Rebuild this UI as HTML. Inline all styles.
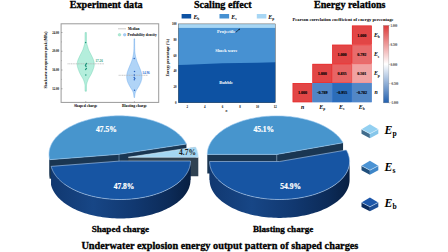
<!DOCTYPE html>
<html><head><meta charset="utf-8"><style>
html,body{margin:0;padding:0;background:#fff;}
svg{display:block;}
</style></head><body>
<svg width="448" height="252" viewBox="0 0 448 252">
<defs>
<linearGradient id="gside" x1="0" y1="0" x2="1" y2="0">
<stop offset="0" stop-color="#113870"/><stop offset="0.3" stop-color="#174686"/><stop offset="0.6" stop-color="#113870"/><stop offset="0.85" stop-color="#0c2b58"/><stop offset="1" stop-color="#081f42"/>
</linearGradient>
<linearGradient id="gcb" x1="0" y1="0" x2="0" y2="1">
<stop offset="0" stop-color="#dc3a3a"/><stop offset="0.5" stop-color="#ffffff"/><stop offset="1" stop-color="#215fae"/>
</linearGradient>
</defs>
<rect width="448" height="252" fill="#fff"/>
<text x="106.20" y="7.60" font-family="Liberation Serif" font-size="10.15" font-weight="bold" font-style="normal" text-anchor="middle" fill="#000" stroke="#000" stroke-width="0.3">Experiment data</text>
<text x="222.75" y="7.60" font-family="Liberation Serif" font-size="10.15" font-weight="bold" font-style="normal" text-anchor="middle" fill="#000" stroke="#000" stroke-width="0.3">Scaling effect</text>
<text x="349.75" y="7.60" font-family="Liberation Serif" font-size="10.15" font-weight="bold" font-style="normal" text-anchor="middle" fill="#000" stroke="#000" stroke-width="0.3">Energy relations</text>
<rect x="61.1" y="23.8" width="97.6" height="78.6" fill="none" stroke="#9a9a9a" stroke-width="1.0"/>
<line x1="61.1" y1="41.9" x2="61.9" y2="41.9" stroke="#666" stroke-width="0.35"/>
<line x1="61.1" y1="60.6" x2="61.9" y2="60.6" stroke="#666" stroke-width="0.35"/>
<line x1="61.1" y1="79.4" x2="61.9" y2="79.4" stroke="#666" stroke-width="0.35"/>
<line x1="85.75" y1="102.4" x2="85.75" y2="101.1" stroke="#555" stroke-width="0.4"/>
<line x1="134.4" y1="102.4" x2="134.4" y2="101.1" stroke="#555" stroke-width="0.4"/>
<line x1="61.1" y1="32.5" x2="62.6" y2="32.5" stroke="#555" stroke-width="0.4"/>
<text x="59.10" y="33.60" font-family="Liberation Serif" font-size="3.1" font-weight="bold" font-style="normal" text-anchor="end" fill="#000" >24.00</text>
<line x1="61.1" y1="51.25" x2="62.6" y2="51.25" stroke="#555" stroke-width="0.4"/>
<text x="59.10" y="52.35" font-family="Liberation Serif" font-size="3.1" font-weight="bold" font-style="normal" text-anchor="end" fill="#000" >20.00</text>
<line x1="61.1" y1="70" x2="62.6" y2="70" stroke="#555" stroke-width="0.4"/>
<text x="59.10" y="71.10" font-family="Liberation Serif" font-size="3.1" font-weight="bold" font-style="normal" text-anchor="end" fill="#000" >16.00</text>
<line x1="61.1" y1="88.75" x2="62.6" y2="88.75" stroke="#555" stroke-width="0.4"/>
<text x="59.10" y="89.85" font-family="Liberation Serif" font-size="3.1" font-weight="bold" font-style="normal" text-anchor="end" fill="#000" >12.00</text>
<text x="0" y="0" font-family="Liberation Serif" font-size="3.6" font-weight="bold" text-anchor="middle" transform="translate(47.4,60.1) rotate(-90)">Shockwave overpressure peak (MPa)</text>
<path d="M85.05,32.60 L85.05,32.91 L85.05,33.31 L85.04,33.78 L85.04,34.32 L85.04,34.90 L85.03,35.51 L85.03,36.14 L85.03,36.78 L85.02,37.42 L85.02,38.03 L85.01,38.60 L85.01,39.14 L85.01,39.60 L85.00,40.00 L84.99,40.82 L84.98,41.38 L84.96,41.77 L84.94,42.11 L84.90,42.50 L84.83,43.04 L84.73,43.53 L84.62,44.01 L84.50,44.50 L84.36,45.00 L84.21,45.50 L84.05,46.00 L83.90,46.50 L83.75,47.01 L83.60,47.53 L83.45,48.04 L83.30,48.50 L83.14,49.00 L82.98,49.44 L82.75,50.00 L82.55,50.44 L82.32,50.93 L82.07,51.45 L81.81,51.98 L81.55,52.50 L81.29,53.00 L81.03,53.50 L80.77,54.00 L80.51,54.50 L80.25,55.00 L80.00,55.50 L79.76,56.00 L79.51,56.50 L79.28,57.00 L79.05,57.50 L78.82,58.01 L78.60,58.52 L78.38,59.04 L78.18,59.53 L78.00,60.00 L77.82,60.54 L77.67,61.03 L77.55,61.51 L77.45,62.00 L77.36,62.50 L77.28,63.00 L77.23,63.50 L77.20,64.00 L77.20,64.50 L77.23,65.00 L77.28,65.50 L77.35,66.00 L77.45,66.50 L77.57,67.00 L77.70,67.50 L77.85,68.00 L78.01,68.50 L78.18,69.00 L78.36,69.50 L78.55,70.00 L78.74,70.50 L78.94,71.00 L79.14,71.50 L79.35,72.00 L79.56,72.50 L79.78,73.00 L80.01,73.50 L80.25,74.00 L80.51,74.50 L80.78,75.00 L81.06,75.50 L81.35,76.00 L81.65,76.50 L81.96,77.00 L82.26,77.50 L82.55,78.00 L82.82,78.50 L83.08,79.00 L83.33,79.50 L83.55,80.00 L83.75,80.50 L83.93,81.00 L84.09,81.50 L84.25,82.00 L84.41,82.50 L84.56,83.00 L84.69,83.50 L84.80,84.00 L84.88,84.43 L84.93,84.80 L84.97,85.27 L85.00,86.00 L85.01,86.41 L85.02,86.92 L85.03,87.49 L85.03,88.10 L85.04,88.72 L85.04,89.34 L85.04,89.92 L85.05,90.44 L85.05,90.88 L85.05,91.20 L86.45,91.20 L86.45,90.88 L86.45,90.44 L86.46,89.92 L86.46,89.34 L86.46,88.72 L86.47,88.10 L86.47,87.49 L86.48,86.92 L86.49,86.41 L86.50,86.00 L86.53,85.27 L86.57,84.80 L86.62,84.43 L86.70,84.00 L86.81,83.50 L86.94,83.00 L87.09,82.50 L87.25,82.00 L87.41,81.50 L87.57,81.00 L87.75,80.50 L87.95,80.00 L88.17,79.50 L88.42,79.00 L88.68,78.50 L88.95,78.00 L89.24,77.50 L89.54,77.00 L89.85,76.50 L90.15,76.00 L90.44,75.50 L90.72,75.00 L90.99,74.50 L91.25,74.00 L91.49,73.50 L91.72,73.00 L91.94,72.50 L92.15,72.00 L92.36,71.50 L92.56,71.00 L92.76,70.50 L92.95,70.00 L93.14,69.50 L93.32,69.00 L93.49,68.50 L93.65,68.00 L93.80,67.50 L93.93,67.00 L94.05,66.50 L94.15,66.00 L94.22,65.50 L94.27,65.00 L94.30,64.50 L94.30,64.00 L94.27,63.50 L94.22,63.00 L94.14,62.50 L94.05,62.00 L93.95,61.51 L93.83,61.03 L93.68,60.54 L93.50,60.00 L93.32,59.53 L93.12,59.04 L92.90,58.52 L92.68,58.01 L92.45,57.50 L92.22,57.00 L91.99,56.50 L91.74,56.00 L91.50,55.50 L91.25,55.00 L90.99,54.50 L90.73,54.00 L90.47,53.50 L90.21,53.00 L89.95,52.50 L89.69,51.98 L89.43,51.45 L89.18,50.93 L88.95,50.44 L88.75,50.00 L88.52,49.44 L88.36,49.00 L88.20,48.50 L88.05,48.04 L87.90,47.53 L87.75,47.01 L87.60,46.50 L87.45,46.00 L87.29,45.50 L87.14,45.00 L87.00,44.50 L86.88,44.01 L86.77,43.53 L86.67,43.04 L86.60,42.50 L86.56,42.11 L86.54,41.77 L86.52,41.38 L86.51,40.82 L86.50,40.00 L86.49,39.60 L86.49,39.14 L86.49,38.60 L86.48,38.03 L86.48,37.42 L86.47,36.78 L86.47,36.14 L86.47,35.51 L86.46,34.90 L86.46,34.32 L86.46,33.78 L86.45,33.31 L86.45,32.91 L86.45,32.60 Z" fill="#b4eedc" stroke="#62cdaa" stroke-width="0.4" stroke-linejoin="round"/>
<path d="M134.00,38.80 L134.00,39.10 L134.00,39.48 L133.99,39.92 L133.99,40.43 L133.99,40.97 L133.98,41.55 L133.98,42.15 L133.98,42.76 L133.97,43.37 L133.97,43.97 L133.96,44.54 L133.96,45.08 L133.96,45.57 L133.95,46.00 L133.94,46.66 L133.93,47.26 L133.92,47.80 L133.91,48.29 L133.90,48.75 L133.88,49.18 L133.87,49.59 L133.85,50.00 L133.82,50.60 L133.78,51.11 L133.75,51.57 L133.70,52.02 L133.65,52.50 L133.60,52.99 L133.54,53.46 L133.48,53.94 L133.40,54.45 L133.30,55.00 L133.20,55.50 L133.09,56.03 L132.98,56.58 L132.84,57.14 L132.70,57.72 L132.55,58.30 L132.41,58.80 L132.27,59.32 L132.11,59.84 L131.95,60.37 L131.78,60.91 L131.60,61.45 L131.40,62.00 L131.21,62.49 L131.01,62.98 L130.80,63.48 L130.58,63.98 L130.35,64.49 L130.13,64.99 L129.91,65.50 L129.70,66.00 L129.49,66.51 L129.28,67.02 L129.06,67.54 L128.85,68.06 L128.65,68.57 L128.45,69.07 L128.27,69.55 L128.10,70.00 L127.90,70.56 L127.72,71.07 L127.55,71.56 L127.41,72.04 L127.27,72.51 L127.15,73.00 L127.04,73.50 L126.94,74.00 L126.85,74.50 L126.78,75.00 L126.73,75.50 L126.70,76.00 L126.69,76.50 L126.70,77.00 L126.72,77.50 L126.76,78.00 L126.82,78.50 L126.90,79.00 L127.00,79.51 L127.12,80.04 L127.26,80.56 L127.40,81.07 L127.55,81.56 L127.70,82.00 L127.92,82.57 L128.14,83.06 L128.37,83.52 L128.60,84.00 L128.84,84.50 L129.08,85.00 L129.33,85.50 L129.60,86.00 L129.88,86.50 L130.18,87.00 L130.49,87.50 L130.80,88.00 L131.12,88.51 L131.45,89.03 L131.77,89.54 L132.05,90.00 L132.36,90.54 L132.62,91.02 L132.85,91.50 L133.06,91.98 L133.24,92.46 L133.40,93.00 L133.50,93.45 L133.59,93.94 L133.67,94.45 L133.75,95.00 L133.81,95.51 L133.87,96.08 L133.92,96.66 L133.97,97.15 L134.00,97.50 L134.60,97.50 L134.63,97.15 L134.68,96.66 L134.73,96.08 L134.79,95.51 L134.85,95.00 L134.93,94.45 L135.01,93.94 L135.10,93.45 L135.20,93.00 L135.36,92.46 L135.54,91.98 L135.75,91.50 L135.98,91.02 L136.24,90.54 L136.55,90.00 L136.83,89.54 L137.15,89.03 L137.48,88.51 L137.80,88.00 L138.11,87.50 L138.42,87.00 L138.72,86.50 L139.00,86.00 L139.27,85.50 L139.52,85.00 L139.76,84.50 L140.00,84.00 L140.23,83.52 L140.46,83.06 L140.68,82.57 L140.90,82.00 L141.05,81.56 L141.20,81.07 L141.34,80.56 L141.48,80.04 L141.60,79.51 L141.70,79.00 L141.78,78.50 L141.84,78.00 L141.88,77.50 L141.90,77.00 L141.91,76.50 L141.90,76.00 L141.87,75.50 L141.82,75.00 L141.75,74.50 L141.66,74.00 L141.56,73.50 L141.45,73.00 L141.33,72.51 L141.19,72.04 L141.05,71.56 L140.88,71.07 L140.70,70.56 L140.50,70.00 L140.33,69.55 L140.15,69.07 L139.95,68.57 L139.75,68.06 L139.54,67.54 L139.32,67.02 L139.11,66.51 L138.90,66.00 L138.69,65.50 L138.47,64.99 L138.25,64.49 L138.02,63.98 L137.80,63.48 L137.59,62.98 L137.39,62.49 L137.20,62.00 L137.00,61.45 L136.82,60.91 L136.65,60.37 L136.49,59.84 L136.33,59.32 L136.19,58.80 L136.05,58.30 L135.90,57.72 L135.76,57.14 L135.62,56.58 L135.51,56.03 L135.40,55.50 L135.30,55.00 L135.20,54.45 L135.12,53.94 L135.06,53.46 L135.00,52.99 L134.95,52.50 L134.90,52.02 L134.85,51.57 L134.82,51.11 L134.78,50.60 L134.75,50.00 L134.73,49.59 L134.72,49.18 L134.70,48.75 L134.69,48.29 L134.68,47.80 L134.67,47.26 L134.66,46.66 L134.65,46.00 L134.64,45.57 L134.64,45.08 L134.64,44.54 L134.63,43.97 L134.63,43.37 L134.62,42.76 L134.62,42.15 L134.62,41.55 L134.61,40.97 L134.61,40.43 L134.61,39.92 L134.60,39.48 L134.60,39.10 L134.60,38.80 Z" fill="#b0d4f7" stroke="#5a9ee8" stroke-width="0.4" stroke-linejoin="round"/>
<line x1="67.5" y1="63.8" x2="104" y2="63.8" stroke="#b0b0b0" stroke-width="0.7" stroke-dasharray="1.2,0.5"/>
<line x1="118.6" y1="75.3" x2="148" y2="75.3" stroke="#b0b0b0" stroke-width="0.7" stroke-dasharray="1.2,0.5"/>
<text x="95.40" y="62.00" font-family="Liberation Serif" font-size="3.3" font-weight="bold" font-style="normal" text-anchor="start" fill="#2fa585" >17.26</text>
<text x="142.20" y="73.80" font-family="Liberation Serif" font-size="3.4" font-weight="bold" font-style="normal" text-anchor="start" fill="#2f6fcf" >14.96</text>
<circle cx="85.6" cy="42.5" r="0.75" fill="#21977e"/>
<circle cx="86.5" cy="63.6" r="0.75" fill="#21977e"/>
<circle cx="85.8" cy="64.6" r="0.75" fill="#21977e"/>
<circle cx="85.5" cy="65.6" r="0.75" fill="#21977e"/>
<circle cx="86.0" cy="66.4" r="0.75" fill="#21977e"/>
<circle cx="86.4" cy="68.6" r="0.75" fill="#21977e"/>
<circle cx="85.6" cy="69.4" r="0.75" fill="#21977e"/>
<circle cx="85.8" cy="75.0" r="0.75" fill="#21977e"/>
<circle cx="134.2" cy="58.4" r="0.75" fill="#2a63c0"/>
<circle cx="134.5" cy="71.4" r="0.75" fill="#2a63c0"/>
<circle cx="134.3" cy="75.0" r="0.75" fill="#2a63c0"/>
<circle cx="134.2" cy="77.6" r="0.75" fill="#2a63c0"/>
<circle cx="134.8" cy="78.6" r="0.75" fill="#2a63c0"/>
<circle cx="134.3" cy="79.8" r="0.75" fill="#2a63c0"/>
<circle cx="134.5" cy="90.2" r="0.75" fill="#2a63c0"/>
<line x1="118" y1="28.8" x2="126" y2="28.8" stroke="#c4c4c4" stroke-width="0.9"/>
<text x="127.90" y="30.10" font-family="Liberation Serif" font-size="3.57" font-weight="bold" font-style="normal" text-anchor="start" fill="#000" >Median</text>
<circle cx="119.5" cy="34.8" r="1.3" fill="#aeead3" stroke="#5cc7a4" stroke-width="0.3"/>
<circle cx="124.7" cy="34.8" r="1.3" fill="#a9cff5" stroke="#4f97e6" stroke-width="0.3"/>
<text x="127.50" y="36.10" font-family="Liberation Serif" font-size="3.6" font-weight="bold" font-style="normal" text-anchor="start" fill="#000" >Probability density</text>
<text x="85.75" y="107.40" font-family="Liberation Serif" font-size="3.73" font-weight="bold" font-style="normal" text-anchor="middle" fill="#000" >Shaped charge</text>
<text x="134.50" y="107.40" font-family="Liberation Serif" font-size="3.77" font-weight="bold" font-style="normal" text-anchor="middle" fill="#000" >Blasting charge</text>
<rect x="178.4" y="23.9" width="96.80" height="78.80" fill="#a7d6f4"/>
<rect x="178.4" y="27.92" width="96.80" height="74.78" fill="#4791d2"/>
<path d="M178.4,102.7 L178.40,65.03 L187.20,64.64 L204.80,63.93 L222.40,63.30 L240.00,62.91 L257.60,62.67 L275.20,62.35 L275.2,102.7 Z" fill="#0d52a3"/>
<rect x="178.4" y="23.9" width="96.80" height="78.80" fill="none" stroke="#333" stroke-width="0.4"/>
<text x="176.60" y="103.80" font-family="Liberation Serif" font-size="3.1" font-weight="bold" font-style="normal" text-anchor="end" fill="#000" >0</text>
<text x="176.60" y="88.04" font-family="Liberation Serif" font-size="3.1" font-weight="bold" font-style="normal" text-anchor="end" fill="#000" >20</text>
<text x="176.60" y="72.28" font-family="Liberation Serif" font-size="3.1" font-weight="bold" font-style="normal" text-anchor="end" fill="#000" >40</text>
<text x="176.60" y="56.52" font-family="Liberation Serif" font-size="3.1" font-weight="bold" font-style="normal" text-anchor="end" fill="#000" >60</text>
<text x="176.60" y="40.76" font-family="Liberation Serif" font-size="3.1" font-weight="bold" font-style="normal" text-anchor="end" fill="#000" >80</text>
<text x="176.60" y="25.00" font-family="Liberation Serif" font-size="3.1" font-weight="bold" font-style="normal" text-anchor="end" fill="#000" >100</text>
<text x="187.20" y="107.60" font-family="Liberation Serif" font-size="3.1" font-weight="bold" font-style="normal" text-anchor="middle" fill="#000" >2</text>
<text x="204.80" y="107.60" font-family="Liberation Serif" font-size="3.1" font-weight="bold" font-style="normal" text-anchor="middle" fill="#000" >4</text>
<text x="222.40" y="107.60" font-family="Liberation Serif" font-size="3.1" font-weight="bold" font-style="normal" text-anchor="middle" fill="#000" >6</text>
<text x="240.00" y="107.60" font-family="Liberation Serif" font-size="3.1" font-weight="bold" font-style="normal" text-anchor="middle" fill="#000" >8</text>
<text x="257.60" y="107.60" font-family="Liberation Serif" font-size="3.1" font-weight="bold" font-style="normal" text-anchor="middle" fill="#000" >10</text>
<text x="275.20" y="107.60" font-family="Liberation Serif" font-size="3.1" font-weight="bold" font-style="normal" text-anchor="middle" fill="#000" >12</text>
<text x="226.50" y="111.80" font-family="Liberation Serif" font-size="3.3" font-weight="bold" font-style="italic" text-anchor="middle" fill="#000" >n</text>
<text x="0" y="0" font-family="Liberation Serif" font-size="3.8" font-weight="bold" text-anchor="middle" transform="translate(169.2,57.7) rotate(-90)">Energy percentage (%)</text>
<text x="226.15" y="33.30" font-family="Liberation Serif" font-size="4.45" font-weight="bold" font-style="normal" text-anchor="middle" fill="#fff" >Projectile</text>
<line x1="235.8" y1="32.3" x2="239.6" y2="29" stroke="#000" stroke-width="0.6"/>
<path d="M239.9,28.7 L238.3,29.3 L239.3,30.3 Z" fill="#000"/>
<text x="226.30" y="52.30" font-family="Liberation Serif" font-size="4.42" font-weight="bold" font-style="normal" text-anchor="middle" fill="#fff" >Shock wave</text>
<text x="226.10" y="83.90" font-family="Liberation Serif" font-size="4.55" font-weight="bold" font-style="normal" text-anchor="middle" fill="#fff" >Bubble</text>
<rect x="181.6" y="14" width="9.6" height="4.5" fill="#0d52a3"/>
<rect x="219.5" y="14" width="9.6" height="4.5" fill="#4791d2"/>
<rect x="256.8" y="14" width="9.6" height="4.5" fill="#a7d6f4"/>
<text x="193.40" y="18.60" font-family="Liberation Serif" font-size="5.8" font-weight="bold" fill="#000" text-anchor="start"><tspan font-style="italic">E</tspan><tspan font-size="3.60" dy="1.28">b</tspan></text>
<text x="231.30" y="18.60" font-family="Liberation Serif" font-size="5.8" font-weight="bold" fill="#000" text-anchor="start"><tspan font-style="italic">E</tspan><tspan font-size="3.60" dy="1.28">s</tspan></text>
<text x="268.30" y="18.60" font-family="Liberation Serif" font-size="5.8" font-weight="bold" fill="#000" text-anchor="start"><tspan font-style="italic">E</tspan><tspan font-size="3.60" dy="1.28">p</tspan></text>
<text x="343.10" y="21.40" font-family="Liberation Serif" font-size="4.57" font-weight="bold" font-style="normal" text-anchor="middle" fill="#000" >Pearson correlation coefficient of energy percentage</text>
<rect x="351.95" y="25.60" width="19.75" height="19.15" fill="#e24646"/>
<rect x="352.25" y="25.90" width="19.15" height="18.55" fill="none" stroke="#eb2828" stroke-width="0.6"/>
<text x="361.82" y="36.57" font-family="Liberation Serif" font-size="4.1" font-weight="bold" font-style="normal" text-anchor="middle" fill="#000" stroke="#000" stroke-width="0.12">1.000</text>
<rect x="332.20" y="44.75" width="19.75" height="19.15" fill="#e24646"/>
<rect x="332.50" y="45.05" width="19.15" height="18.55" fill="none" stroke="#eb2828" stroke-width="0.6"/>
<text x="342.07" y="55.73" font-family="Liberation Serif" font-size="4.1" font-weight="bold" font-style="normal" text-anchor="middle" fill="#000" stroke="#000" stroke-width="0.12">1.000</text>
<rect x="351.95" y="44.75" width="19.75" height="19.15" fill="#e86c6c"/>
<rect x="352.25" y="45.05" width="19.15" height="18.55" fill="none" stroke="#ee4c4c" stroke-width="0.6"/>
<text x="361.82" y="55.73" font-family="Liberation Serif" font-size="4.1" font-weight="bold" font-style="normal" text-anchor="middle" fill="#000" stroke="#000" stroke-width="0.12">0.792</text>
<rect x="312.45" y="63.90" width="19.75" height="19.15" fill="#e24646"/>
<rect x="312.75" y="64.20" width="19.15" height="18.55" fill="none" stroke="#eb2828" stroke-width="0.6"/>
<text x="322.32" y="74.88" font-family="Liberation Serif" font-size="4.1" font-weight="bold" font-style="normal" text-anchor="middle" fill="#000" stroke="#000" stroke-width="0.12">1.000</text>
<rect x="332.20" y="63.90" width="19.75" height="19.15" fill="#e76565"/>
<rect x="332.50" y="64.20" width="19.15" height="18.55" fill="none" stroke="#ed4242" stroke-width="0.6"/>
<text x="342.07" y="74.88" font-family="Liberation Serif" font-size="4.1" font-weight="bold" font-style="normal" text-anchor="middle" fill="#000" stroke="#000" stroke-width="0.12">0.835</text>
<rect x="351.95" y="63.90" width="19.75" height="19.15" fill="#f0a2a2"/>
<rect x="352.25" y="64.20" width="19.15" height="18.55" fill="none" stroke="#f48e8e" stroke-width="0.6"/>
<text x="361.82" y="74.88" font-family="Liberation Serif" font-size="4.1" font-weight="bold" font-style="normal" text-anchor="middle" fill="#000" stroke="#000" stroke-width="0.12">0.501</text>
<rect x="292.70" y="83.05" width="19.75" height="19.15" fill="#e24646"/>
<rect x="293.00" y="83.35" width="19.15" height="18.55" fill="none" stroke="#eb2828" stroke-width="0.6"/>
<text x="302.57" y="94.03" font-family="Liberation Serif" font-size="4.1" font-weight="bold" font-style="normal" text-anchor="middle" fill="#000" stroke="#000" stroke-width="0.12">1.000</text>
<rect x="312.45" y="83.05" width="19.75" height="19.15" fill="#5186c5"/>
<rect x="312.75" y="83.35" width="19.15" height="18.55" fill="none" stroke="#4d87d1" stroke-width="0.6"/>
<text x="322.32" y="94.03" font-family="Liberation Serif" font-size="4.1" font-weight="bold" font-style="normal" text-anchor="middle" fill="#000" stroke="#000" stroke-width="0.12">-0.789</text>
<rect x="332.20" y="83.05" width="19.75" height="19.15" fill="#2c6db9"/>
<rect x="332.50" y="83.35" width="19.15" height="18.55" fill="none" stroke="#286ec8" stroke-width="0.6"/>
<text x="342.07" y="94.03" font-family="Liberation Serif" font-size="4.1" font-weight="bold" font-style="normal" text-anchor="middle" fill="#000" stroke="#000" stroke-width="0.12">-0.955</text>
<rect x="351.95" y="83.05" width="19.75" height="19.15" fill="#5287c6"/>
<rect x="352.25" y="83.35" width="19.15" height="18.55" fill="none" stroke="#4e88d2" stroke-width="0.6"/>
<text x="361.82" y="94.03" font-family="Liberation Serif" font-size="4.1" font-weight="bold" font-style="normal" text-anchor="middle" fill="#000" stroke="#000" stroke-width="0.12">-0.782</text>
<text x="373.90" y="37.17" font-family="Liberation Serif" font-size="5.8" font-weight="bold" fill="#000" text-anchor="start"><tspan font-style="italic">E</tspan><tspan font-size="3.60" dy="1.28">b</tspan></text>
<text x="373.90" y="56.33" font-family="Liberation Serif" font-size="5.8" font-weight="bold" fill="#000" text-anchor="start"><tspan font-style="italic">E</tspan><tspan font-size="3.60" dy="1.28">s</tspan></text>
<text x="373.90" y="75.47" font-family="Liberation Serif" font-size="5.8" font-weight="bold" fill="#000" text-anchor="start"><tspan font-style="italic">E</tspan><tspan font-size="3.60" dy="1.28">p</tspan></text>
<text x="376.00" y="94.42" font-family="Liberation Serif" font-size="5.8" font-weight="bold" font-style="italic" text-anchor="middle" fill="#000" >n</text>
<text x="302.57" y="109.10" font-family="Liberation Serif" font-size="5.8" font-weight="bold" font-style="italic" text-anchor="middle" fill="#000" >n</text>
<text x="319.32" y="109.10" font-family="Liberation Serif" font-size="5.8" font-weight="bold" fill="#000" text-anchor="start"><tspan font-style="italic">E</tspan><tspan font-size="3.60" dy="1.28">p</tspan></text>
<text x="339.07" y="109.10" font-family="Liberation Serif" font-size="5.8" font-weight="bold" fill="#000" text-anchor="start"><tspan font-style="italic">E</tspan><tspan font-size="3.60" dy="1.28">s</tspan></text>
<text x="358.82" y="109.10" font-family="Liberation Serif" font-size="5.8" font-weight="bold" fill="#000" text-anchor="start"><tspan font-style="italic">E</tspan><tspan font-size="3.60" dy="1.28">b</tspan></text>
<rect x="383.3" y="25.4" width="5.6" height="77.5" fill="url(#gcb)" stroke="#888" stroke-width="0.3"/>
<line x1="388.9" y1="25.4" x2="389.9" y2="25.4" stroke="#555" stroke-width="0.3"/>
<text x="390.60" y="26.50" font-family="Liberation Serif" font-size="3.0" font-weight="bold" font-style="normal" text-anchor="start" fill="#333" >1.000</text>
<line x1="388.9" y1="45.0" x2="389.9" y2="45.0" stroke="#555" stroke-width="0.3"/>
<text x="390.60" y="46.10" font-family="Liberation Serif" font-size="3.0" font-weight="bold" font-style="normal" text-anchor="start" fill="#333" >0.500</text>
<line x1="388.9" y1="64.4" x2="389.9" y2="64.4" stroke="#555" stroke-width="0.3"/>
<text x="390.60" y="65.50" font-family="Liberation Serif" font-size="3.0" font-weight="bold" font-style="normal" text-anchor="start" fill="#333" >0.000</text>
<line x1="388.9" y1="83.6" x2="389.9" y2="83.6" stroke="#555" stroke-width="0.3"/>
<text x="390.60" y="84.70" font-family="Liberation Serif" font-size="3.0" font-weight="bold" font-style="normal" text-anchor="start" fill="#333" >-0.500</text>
<line x1="388.9" y1="102.9" x2="389.9" y2="102.9" stroke="#555" stroke-width="0.3"/>
<text x="390.60" y="104.00" font-family="Liberation Serif" font-size="3.0" font-weight="bold" font-style="normal" text-anchor="start" fill="#333" >-1.000</text>
<path d="M119.00,154.30 L186.45,144.01 L186.45,163.01 L119.00,173.30 Z" fill="#1a3652"/>
<path d="M119.00,154.30 L49.68,159.66 L49.68,178.66 L119.00,173.30 Z" fill="#1a3652"/>
<line x1="119.00" y1="154.30" x2="119.00" y2="173.30" stroke="#8fb0cc" stroke-width="0.5"/>
<path d="M49.00,154.30 L49.03,155.37 L49.11,156.45 L49.25,157.52 L49.44,158.59 L49.68,159.66 L49.68,178.66 L49.44,177.59 L49.25,176.52 L49.11,175.45 L49.03,174.37 L49.00,173.30 Z" fill="#1a3652"/>
<path d="M119.00,154.30 L186.45,144.01 L185.77,142.73 L185.00,141.47 L184.15,140.22 L183.23,138.99 L182.23,137.78 L181.15,136.58 L180.00,135.41 L178.77,134.26 L177.48,133.14 L176.11,132.04 L174.68,130.96 L173.17,129.92 L171.61,128.90 L169.98,127.92 L168.29,126.96 L166.54,126.04 L164.73,125.15 L162.87,124.30 L160.96,123.48 L158.99,122.70 L156.98,121.96 L154.93,121.26 L152.83,120.59 L150.69,119.97 L148.51,119.39 L146.29,118.85 L144.05,118.35 L141.77,117.89 L139.47,117.48 L137.14,117.11 L134.79,116.79 L132.42,116.51 L130.03,116.28 L127.64,116.09 L125.23,115.95 L122.81,115.86 L120.39,115.81 L117.97,115.80 L115.55,115.85 L113.13,115.94 L110.72,116.07 L108.32,116.25 L105.93,116.48 L103.56,116.75 L101.21,117.06 L98.88,117.43 L96.57,117.83 L94.29,118.28 L92.04,118.77 L89.82,119.31 L87.63,119.88 L85.49,120.50 L83.38,121.16 L81.32,121.85 L79.30,122.59 L77.33,123.37 L75.41,124.18 L73.54,125.02 L71.72,125.91 L69.97,126.82 L68.27,127.77 L66.63,128.75 L65.05,129.77 L63.54,130.81 L62.10,131.88 L60.72,132.97 L59.41,134.09 L58.18,135.24 L57.02,136.41 L55.93,137.60 L54.92,138.81 L53.98,140.04 L53.12,141.28 L52.34,142.55 L51.64,143.82 L51.02,145.11 L50.49,146.41 L50.03,147.72 L49.66,149.03 L49.37,150.36 L49.16,151.68 L49.04,153.01 L49.00,154.35 L49.04,155.68 L49.17,157.01 L49.39,158.34 L49.68,159.66 Z" fill="#4795cd" stroke="#9ccaf0" stroke-width="0.6" stroke-linejoin="round"/>
<path d="M128.30,157.30 L198.30,157.30 L198.30,176.30 L128.30,176.30 Z" fill="#304252"/>
<path d="M128.30,157.30 L195.75,147.01 L195.75,166.01 L128.30,176.30 Z" fill="#304252"/>
<line x1="128.30" y1="157.30" x2="128.30" y2="176.30" stroke="#2a3640" stroke-width="0.5"/>
<path d="M128.30,157.30 L198.30,157.30 L198.26,156.00 L198.14,154.70 L197.94,153.40 L197.66,152.11 L197.30,150.82 L196.86,149.54 L196.35,148.27 L195.75,147.01 Z" fill="#a4d6f2" stroke="#d8eefc" stroke-width="0.6" stroke-linejoin="round"/>
<path d="M120.50,161.00 L51.18,166.36 L51.18,185.36 L120.50,180.00 Z" fill="#0b2a55"/>
<path d="M120.50,161.00 L190.50,161.00 L190.50,180.00 L120.50,180.00 Z" fill="#0b2a55"/>
<path d="M51.18,166.36 L51.56,167.67 L52.02,168.97 L52.56,170.27 L53.18,171.55 L53.88,172.82 L54.66,174.08 L55.52,175.32 L56.46,176.55 L57.47,177.75 L58.56,178.94 L59.72,180.10 L60.96,181.24 L62.26,182.36 L63.64,183.45 L65.08,184.52 L66.59,185.56 L68.16,186.57 L69.80,187.54 L71.49,188.49 L73.24,189.40 L75.05,190.28 L76.92,191.13 L78.83,191.94 L80.80,192.71 L82.81,193.44 L84.87,194.14 L86.97,194.80 L89.11,195.41 L91.29,195.99 L93.50,196.52 L95.74,197.01 L98.02,197.46 L100.32,197.86 L102.64,198.23 L104.99,198.54 L107.35,198.81 L109.73,199.04 L112.12,199.22 L114.53,199.36 L116.93,199.45 L119.35,199.49 L121.76,199.49 L124.18,199.45 L126.59,199.35 L128.99,199.22 L131.38,199.03 L133.76,198.80 L136.12,198.53 L138.47,198.21 L140.79,197.85 L143.09,197.44 L145.36,196.99 L147.61,196.50 L149.82,195.96 L151.99,195.38 L154.13,194.77 L156.23,194.11 L158.28,193.41 L160.29,192.67 L162.26,191.90 L164.17,191.09 L166.03,190.24 L167.84,189.36 L169.59,188.45 L171.28,187.50 L172.91,186.52 L174.48,185.51 L175.99,184.47 L177.43,183.40 L178.80,182.31 L180.10,181.19 L181.33,180.05 L182.49,178.88 L183.57,177.70 L184.58,176.49 L185.52,175.26 L186.37,174.02 L187.15,172.76 L187.85,171.49 L188.47,170.21 L189.01,168.91 L189.46,167.61 L189.83,166.30 L190.13,164.98 L190.33,163.65 L190.46,162.33 L190.50,161.00 L190.50,180.00 L190.46,181.33 L190.33,182.65 L190.13,183.98 L189.83,185.30 L189.46,186.61 L189.01,187.91 L188.47,189.21 L187.85,190.49 L187.15,191.76 L186.37,193.02 L185.52,194.26 L184.58,195.49 L183.57,196.70 L182.49,197.88 L181.33,199.05 L180.10,200.19 L178.80,201.31 L177.43,202.40 L175.99,203.47 L174.48,204.51 L172.91,205.52 L171.28,206.50 L169.59,207.45 L167.84,208.36 L166.03,209.24 L164.17,210.09 L162.26,210.90 L160.29,211.67 L158.28,212.41 L156.23,213.11 L154.13,213.77 L151.99,214.38 L149.82,214.96 L147.61,215.50 L145.36,215.99 L143.09,216.44 L140.79,216.85 L138.47,217.21 L136.12,217.53 L133.76,217.80 L131.38,218.03 L128.99,218.22 L126.59,218.35 L124.18,218.45 L121.76,218.49 L119.35,218.49 L116.93,218.45 L114.53,218.36 L112.12,218.22 L109.73,218.04 L107.35,217.81 L104.99,217.54 L102.64,217.23 L100.32,216.86 L98.02,216.46 L95.74,216.01 L93.50,215.52 L91.29,214.99 L89.11,214.41 L86.97,213.80 L84.87,213.14 L82.81,212.44 L80.80,211.71 L78.83,210.94 L76.92,210.13 L75.05,209.28 L73.24,208.40 L71.49,207.49 L69.80,206.54 L68.16,205.57 L66.59,204.56 L65.08,203.52 L63.64,202.45 L62.26,201.36 L60.96,200.24 L59.72,199.10 L58.56,197.94 L57.47,196.75 L56.46,195.55 L55.52,194.32 L54.66,193.08 L53.88,191.82 L53.18,190.55 L52.56,189.27 L52.02,187.97 L51.56,186.67 L51.18,185.36 Z" fill="url(#gside)"/>
<path d="M120.50,161.00 L51.18,166.36 L51.56,167.67 L52.02,168.97 L52.56,170.27 L53.18,171.55 L53.88,172.82 L54.66,174.08 L55.52,175.32 L56.46,176.55 L57.47,177.75 L58.56,178.94 L59.72,180.10 L60.96,181.24 L62.26,182.36 L63.64,183.45 L65.08,184.52 L66.59,185.56 L68.16,186.57 L69.80,187.54 L71.49,188.49 L73.24,189.40 L75.05,190.28 L76.92,191.13 L78.83,191.94 L80.80,192.71 L82.81,193.44 L84.87,194.14 L86.97,194.80 L89.11,195.41 L91.29,195.99 L93.50,196.52 L95.74,197.01 L98.02,197.46 L100.32,197.86 L102.64,198.23 L104.99,198.54 L107.35,198.81 L109.73,199.04 L112.12,199.22 L114.53,199.36 L116.93,199.45 L119.35,199.49 L121.76,199.49 L124.18,199.45 L126.59,199.35 L128.99,199.22 L131.38,199.03 L133.76,198.80 L136.12,198.53 L138.47,198.21 L140.79,197.85 L143.09,197.44 L145.36,196.99 L147.61,196.50 L149.82,195.96 L151.99,195.38 L154.13,194.77 L156.23,194.11 L158.28,193.41 L160.29,192.67 L162.26,191.90 L164.17,191.09 L166.03,190.24 L167.84,189.36 L169.59,188.45 L171.28,187.50 L172.91,186.52 L174.48,185.51 L175.99,184.47 L177.43,183.40 L178.80,182.31 L180.10,181.19 L181.33,180.05 L182.49,178.88 L183.57,177.70 L184.58,176.49 L185.52,175.26 L186.37,174.02 L187.15,172.76 L187.85,171.49 L188.47,170.21 L189.01,168.91 L189.46,167.61 L189.83,166.30 L190.13,164.98 L190.33,163.65 L190.46,162.33 L190.50,161.00 Z" fill="#1755a3" stroke="#b0cdec" stroke-width="0.6" stroke-linejoin="round"/>
<path d="M276.80,154.40 L343.05,142.76 L343.05,161.76 L276.80,173.40 Z" fill="#1a3652"/>
<path d="M276.80,154.40 L207.30,154.40 L207.30,173.40 L276.80,173.40 Z" fill="#1a3652"/>
<line x1="276.80" y1="154.40" x2="276.80" y2="173.40" stroke="#8fb0cc" stroke-width="0.5"/>
<path d="M276.80,154.40 L343.05,142.76 L342.28,141.50 L341.44,140.25 L340.52,139.02 L339.52,137.81 L338.45,136.62 L337.30,135.45 L336.08,134.30 L334.79,133.18 L333.43,132.08 L332.01,131.01 L330.52,129.97 L328.96,128.96 L327.34,127.97 L325.66,127.02 L323.93,126.10 L322.13,125.22 L320.28,124.37 L318.38,123.55 L316.44,122.77 L314.44,122.03 L312.40,121.33 L310.31,120.67 L308.19,120.05 L306.03,119.47 L303.83,118.93 L301.60,118.43 L299.34,117.98 L297.06,117.57 L294.75,117.21 L292.42,116.88 L290.07,116.61 L287.70,116.38 L285.32,116.19 L282.93,116.05 L280.54,115.96 L278.14,115.91 L275.73,115.90 L273.33,115.95 L270.94,116.04 L268.55,116.17 L266.17,116.35 L263.80,116.58 L261.45,116.85 L259.12,117.17 L256.80,117.53 L254.51,117.93 L252.25,118.38 L250.02,118.87 L247.82,119.41 L245.65,119.98 L243.53,120.60 L241.44,121.26 L239.39,121.95 L237.39,122.69 L235.43,123.46 L233.53,124.27 L231.67,125.12 L229.87,126.00 L228.13,126.92 L226.45,127.86 L224.82,128.84 L223.26,129.85 L221.76,130.89 L220.32,131.96 L218.96,133.06 L217.66,134.18 L216.43,135.32 L215.28,136.49 L214.20,137.68 L213.19,138.88 L212.26,140.11 L211.41,141.36 L210.64,142.62 L209.94,143.89 L209.32,145.18 L208.79,146.47 L208.34,147.78 L207.96,149.09 L207.67,150.41 L207.47,151.74 L207.34,153.07 L207.30,154.40 Z" fill="#4795cd" stroke="#9ccaf0" stroke-width="0.6" stroke-linejoin="round"/>
<path d="M279.60,161.50 L209.60,161.50 L209.60,179.90 L279.60,179.90 Z" fill="#0b2a55"/>
<path d="M279.60,161.50 L346.32,150.01 L346.32,168.41 L279.60,179.90 Z" fill="#0b2a55"/>
<path d="M209.60,161.50 L209.64,162.81 L209.77,164.12 L209.98,165.43 L210.27,166.73 L210.64,168.03 L211.10,169.32 L211.63,170.59 L212.25,171.86 L212.95,173.12 L213.73,174.36 L214.59,175.59 L215.52,176.80 L216.53,177.99 L217.62,179.16 L218.78,180.31 L220.01,181.44 L221.31,182.54 L222.69,183.62 L224.13,184.68 L225.63,185.70 L227.20,186.70 L228.84,187.67 L230.53,188.60 L232.28,189.50 L234.09,190.37 L235.96,191.21 L237.87,192.01 L239.84,192.77 L241.85,193.50 L243.90,194.19 L246.00,194.84 L248.14,195.45 L250.32,196.02 L252.53,196.54 L254.78,197.03 L257.05,197.47 L259.35,197.88 L261.68,198.23 L264.02,198.55 L266.39,198.82 L268.77,199.04 L271.16,199.22 L273.57,199.36 L275.98,199.45 L278.39,199.49 L280.81,199.49 L283.22,199.45 L285.63,199.36 L288.04,199.22 L290.43,199.04 L292.81,198.82 L295.18,198.55 L297.52,198.23 L299.85,197.88 L302.15,197.47 L304.42,197.03 L306.67,196.54 L308.88,196.02 L311.06,195.45 L313.20,194.84 L315.30,194.19 L317.35,193.50 L319.36,192.77 L321.33,192.01 L323.24,191.21 L325.11,190.37 L326.92,189.50 L328.67,188.60 L330.36,187.67 L332.00,186.70 L333.57,185.70 L335.07,184.68 L336.51,183.62 L337.89,182.54 L339.19,181.44 L340.42,180.31 L341.58,179.16 L342.67,177.99 L343.68,176.80 L344.61,175.59 L345.47,174.36 L346.25,173.12 L346.95,171.86 L347.57,170.59 L348.10,169.32 L348.56,168.03 L348.93,166.73 L349.22,165.43 L349.43,164.12 L349.56,162.81 L349.60,161.50 L349.60,179.90 L349.56,181.21 L349.43,182.52 L349.22,183.83 L348.93,185.13 L348.56,186.43 L348.10,187.72 L347.57,188.99 L346.95,190.26 L346.25,191.52 L345.47,192.76 L344.61,193.99 L343.68,195.20 L342.67,196.39 L341.58,197.56 L340.42,198.71 L339.19,199.84 L337.89,200.94 L336.51,202.02 L335.07,203.08 L333.57,204.10 L332.00,205.10 L330.36,206.07 L328.67,207.00 L326.92,207.90 L325.11,208.77 L323.24,209.61 L321.33,210.41 L319.36,211.17 L317.35,211.90 L315.30,212.59 L313.20,213.24 L311.06,213.85 L308.88,214.42 L306.67,214.94 L304.42,215.43 L302.15,215.87 L299.85,216.28 L297.52,216.63 L295.18,216.95 L292.81,217.22 L290.43,217.44 L288.04,217.62 L285.63,217.76 L283.22,217.85 L280.81,217.89 L278.39,217.89 L275.98,217.85 L273.57,217.76 L271.16,217.62 L268.77,217.44 L266.39,217.22 L264.02,216.95 L261.68,216.63 L259.35,216.28 L257.05,215.87 L254.78,215.43 L252.53,214.94 L250.32,214.42 L248.14,213.85 L246.00,213.24 L243.90,212.59 L241.85,211.90 L239.84,211.17 L237.87,210.41 L235.96,209.61 L234.09,208.77 L232.28,207.90 L230.53,207.00 L228.84,206.07 L227.20,205.10 L225.63,204.10 L224.13,203.08 L222.69,202.02 L221.31,200.94 L220.01,199.84 L218.78,198.71 L217.62,197.56 L216.53,196.39 L215.52,195.20 L214.59,193.99 L213.73,192.76 L212.95,191.52 L212.25,190.26 L211.63,188.99 L211.10,187.72 L210.64,186.43 L210.27,185.13 L209.98,183.83 L209.77,182.52 L209.64,181.21 L209.60,179.90 Z" fill="url(#gside)"/>
<path d="M279.60,161.50 L209.60,161.50 L209.64,162.82 L209.77,164.15 L209.98,165.46 L210.28,166.78 L210.66,168.09 L211.12,169.38 L211.67,170.67 L212.30,171.95 L213.01,173.22 L213.80,174.47 L214.68,175.71 L215.63,176.93 L216.66,178.13 L217.76,179.31 L218.94,180.47 L220.19,181.60 L221.52,182.71 L222.92,183.80 L224.38,184.85 L225.91,185.88 L227.51,186.89 L229.17,187.85 L230.89,188.79 L232.67,189.70 L234.51,190.57 L236.40,191.40 L238.35,192.20 L240.34,192.96 L242.38,193.68 L244.47,194.37 L246.60,195.01 L248.77,195.62 L250.98,196.18 L253.22,196.70 L255.50,197.18 L257.80,197.61 L260.13,198.00 L262.48,198.35 L264.86,198.65 L267.25,198.90 L269.66,199.11 L272.08,199.28 L274.51,199.40 L276.94,199.47 L279.38,199.50 L281.82,199.48 L284.25,199.42 L286.68,199.31 L289.10,199.15 L291.51,198.95 L293.91,198.70 L296.29,198.40 L298.64,198.07 L300.98,197.68 L303.29,197.26 L305.57,196.79 L307.81,196.28 L310.03,195.72 L312.21,195.13 L314.34,194.49 L316.44,193.81 L318.49,193.10 L320.49,192.34 L322.45,191.55 L324.35,190.72 L326.20,189.86 L327.99,188.96 L329.72,188.03 L331.39,187.06 L333.00,186.07 L334.54,185.04 L336.02,183.99 L337.43,182.91 L338.77,181.80 L340.04,180.67 L341.23,179.52 L342.35,178.34 L343.39,177.15 L344.36,175.93 L345.24,174.70 L346.05,173.45 L346.78,172.19 L347.42,170.91 L347.98,169.62 L348.46,168.32 L348.86,167.02 L349.17,165.70 L349.40,164.39 L349.54,163.06 L349.60,161.74 L349.57,160.42 L349.46,159.10 L349.26,157.78 L348.98,156.46 L348.62,155.15 L348.17,153.85 L347.63,152.56 L347.02,151.28 L346.32,150.01 Z" fill="#1755a3" stroke="#b0cdec" stroke-width="0.6" stroke-linejoin="round"/>
<text x="106.40" y="131.80" font-family="Liberation Serif" font-size="7.5" font-weight="bold" font-style="normal" text-anchor="middle" fill="#fff" stroke="#fff" stroke-width="0.22">47.5%</text>
<text x="124.00" y="188.80" font-family="Liberation Serif" font-size="7.5" font-weight="bold" font-style="normal" text-anchor="middle" fill="#fff" stroke="#fff" stroke-width="0.22">47.8%</text>
<text x="187.55" y="154.70" font-family="Liberation Serif" font-size="7.5" font-weight="bold" font-style="normal" text-anchor="middle" fill="#1a1a1a" >4.7%</text>
<text x="263.70" y="132.05" font-family="Liberation Serif" font-size="7.5" font-weight="bold" font-style="normal" text-anchor="middle" fill="#fff" stroke="#fff" stroke-width="0.22">45.1%</text>
<text x="290.60" y="189.40" font-family="Liberation Serif" font-size="7.5" font-weight="bold" font-style="normal" text-anchor="middle" fill="#fff" stroke="#fff" stroke-width="0.22">54.9%</text>
<text x="120.40" y="232.00" font-family="Liberation Serif" font-size="9.15" font-weight="bold" font-style="normal" text-anchor="middle" fill="#000" stroke="#000" stroke-width="0.3">Shaped charge</text>
<text x="283.15" y="232.00" font-family="Liberation Serif" font-size="9.1" font-weight="bold" font-style="normal" text-anchor="middle" fill="#000" stroke="#000" stroke-width="0.3">Blasting charge</text>
<text x="219.90" y="248.70" font-family="Liberation Serif" font-size="10.3" font-weight="bold" font-style="normal" text-anchor="middle" fill="#000" stroke="#000" stroke-width="0.3">Underwater explosion energy output pattern of shaped charges</text>
<path d="M361.50,129.30 L369.90,133.70 L369.90,138.20 L361.50,133.80 Z" fill="#406c8c"/>
<path d="M369.90,133.70 L378.30,129.30 L378.30,133.80 L369.90,138.20 Z" fill="#86c6ea"/>
<path d="M369.90,124.30 L378.30,129.30 L369.90,133.70 L361.50,129.30 Z" fill="#93d0f1"/>
<path d="M361.50,129.30 L369.90,133.70 L378.30,129.30" fill="none" stroke="#e8f4fc" stroke-width="0.5"/>
<path d="M361.50,165.80 L369.90,170.20 L369.90,174.70 L361.50,170.30 Z" fill="#1f4e7c"/>
<path d="M369.90,170.20 L378.30,165.80 L378.30,170.30 L369.90,174.70 Z" fill="#3e86c8"/>
<path d="M369.90,160.80 L378.30,165.80 L369.90,170.20 L361.50,165.80 Z" fill="#4b93d4"/>
<path d="M361.50,165.80 L369.90,170.20 L378.30,165.80" fill="none" stroke="#e8f4fc" stroke-width="0.5"/>
<path d="M361.50,202.40 L369.90,206.80 L369.90,211.30 L361.50,206.90 Z" fill="#0c2c5c"/>
<path d="M369.90,206.80 L378.30,202.40 L378.30,206.90 L369.90,211.30 Z" fill="#1b4d95"/>
<path d="M369.90,197.40 L378.30,202.40 L369.90,206.80 L361.50,202.40 Z" fill="#1e58aa"/>
<path d="M361.50,202.40 L369.90,206.80 L378.30,202.40" fill="none" stroke="#e8f4fc" stroke-width="0.5"/>
<text x="384.50" y="133.80" font-family="Liberation Serif" font-size="11.8" font-weight="bold" fill="#000" text-anchor="start"><tspan font-style="italic">E</tspan><tspan font-size="7.55" dy="2.36">p</tspan></text>
<text x="384.50" y="170.50" font-family="Liberation Serif" font-size="11.8" font-weight="bold" fill="#000" text-anchor="start"><tspan font-style="italic">E</tspan><tspan font-size="7.55" dy="2.36">s</tspan></text>
<text x="384.50" y="206.70" font-family="Liberation Serif" font-size="11.8" font-weight="bold" fill="#000" text-anchor="start"><tspan font-style="italic">E</tspan><tspan font-size="7.55" dy="2.36">b</tspan></text>
</svg>
</body></html>
